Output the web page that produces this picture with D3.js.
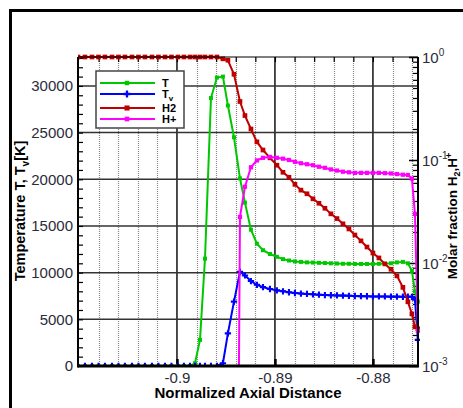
<!DOCTYPE html>
<html>
<head>
<meta charset="utf-8">
<script src="https://cdn.jsdelivr.net/npm/d3@7"></script>
<style>
  body { margin: 0; background: #fff; }
  svg { display: block; font-family: Arial, "Liberation Sans", sans-serif; }
  .tick text { font-size: 15px; fill: #2b2b3a; }
</style>
</head>
<body>
<div class="wrapper"></div>
<script>
width = 463;
height = 408;

/* Data: mesh points along the axis and the four series */
axial = [-0.91010, -0.90939, -0.90867, -0.90801, -0.90735, -0.90663, -0.90597, -0.90531,
  -0.90459, -0.90393, -0.90327, -0.90255, -0.90189, -0.90122, -0.90056, -0.89990,
  -0.89929, -0.89867, -0.89816, -0.89765, -0.89714, -0.89653, -0.89592, -0.89531,
  -0.89480, -0.89418, -0.89357, -0.89306, -0.89245, -0.89184, -0.89122, -0.89051,
  -0.88980, -0.88918, -0.88857, -0.88796, -0.88735, -0.88673, -0.88612, -0.88551,
  -0.88490, -0.88429, -0.88367, -0.88306, -0.88245, -0.88184, -0.88122, -0.88061,
  -0.88000, -0.87939, -0.87878, -0.87816, -0.87755, -0.87694, -0.87643, -0.87602,
  -0.87571, -0.87541];

tempT = [0, 0, 0, 0, 0, 0, 0, 0, 0, 0, 0, 0, 0, 0, 0, 0, 0, 0,
  300, 2800, 11500, 28700, 30900, 31000, 27900, 24500, 20100, 17500, 14600, 13100,
  12400, 12000, 11700, 11450, 11300, 11200, 11150, 11100, 11080, 11050, 11030, 11000,
  10980, 10950, 10950, 10930, 10930, 10930, 10930, 10950, 10950, 11000, 11100, 11150,
  11000, 10200, 8000, 6900];

tempTv = [0, 0, 0, 0, 0, 0, 0, 0, 0, 0, 0, 0, 0, 0, 0, 0, 0, 0, 0, 0, 0, 0, 0,
  300, 3500, 6900, 10100, 9700, 9100, 8700, 8450, 8250, 8100, 8000, 7900, 7820,
  7760, 7720, 7680, 7640, 7600, 7580, 7560, 7540, 7520, 7500, 7480, 7470, 7450,
  7450, 7450, 7430, 7430, 7420, 7420, 7400, 7100, 2800];

fracH2 = [1, 1, 1, 1, 1, 1, 1, 1, 1, 1, 1, 1, 1, 1, 1, 1, 1, 1, 1, 1, 1, 1, 1,
  0.96, 0.93, 0.68, 0.37, 0.27, 0.2, 0.15, 0.125, 0.105, 0.089, 0.076, 0.068, 0.058,
  0.051, 0.047, 0.042, 0.038, 0.034, 0.030, 0.027, 0.024, 0.0214, 0.0187, 0.0164,
  0.0143, 0.0125, 0.0112, 0.0098, 0.0087, 0.0075, 0.0058, 0.0042, 0.0032, 0.0024, 0.0023];

fracHp = [1e-10, 1e-10, 1e-10, 1e-10, 1e-10, 1e-10, 1e-10, 1e-10, 1e-10, 1e-10,
  1e-10, 1e-10, 1e-10, 1e-10, 1e-10, 1e-10, 1e-10, 1e-10, 1e-10, 1e-10, 1e-10,
  1e-10, 1e-10, 1e-10, 1e-10, 1e-10,
  0.028, 0.055, 0.085, 0.099, 0.105, 0.107, 0.105, 0.103, 0.1, 0.096, 0.093, 0.091,
  0.089, 0.086, 0.084, 0.081, 0.079, 0.077, 0.076, 0.075, 0.075, 0.075, 0.075, 0.075,
  0.0745, 0.074, 0.073, 0.072, 0.0715, 0.066, 0.03, 0.0022];

xLabels = [-0.9, -0.89, -0.88];
tempTicks = [0, 5000, 10000, 15000, 20000, 25000, 30000];
fracExps = [0, -1, -2, -3];

seriesNames = ["T", "Tv", "H2", "H+"];
seriesColors = ["#00c800", "#0000ff", "#c00000", "#ff00ff"];

/* Plot box ("top" is taken by window, so prefixed names) */
var pL = 78, pR = 418, pT = 57, pB = 366;

scaleX = d3.scaleLinear().domain([-0.9101, -0.8754]).range([pL, pR]);
scaleT = d3.scaleLinear().domain([0, 33100]).range([pB, pT]);
scaleF = d3.scaleLog().domain([1e-3, 1]).range([pB, pT]);

svg = d3.select(".wrapper")
  .append("svg")
  .attr("width", width)
  .attr("height", height)
  .attr("viewBox", "0 0 " + width + " " + height);

// figure frame (cut off at right and bottom)
svg.append("path")
  .attr("d", "M10.5," + height + "V10.5H" + width)
  .attr("fill", "none")
  .attr("stroke", "black")
  .attr("stroke-width", 3);

svg.append("clipPath").attr("id", "plotclip")
  .append("rect")
  .attr("x", pL).attr("y", pT - 3)
  .attr("width", pR - pL + 2).attr("height", pB - pT + 3);

/* Grid */
minorX = d3.range(-0.908, -0.8755, 0.002).filter(function (v) {
  return Math.abs(v * 100 - Math.round(v * 100)) > 1e-6;
});

svg.append("g")
  .selectAll("line")
  .data(minorX)
  .enter().append("line")
  .attr("x1", function (d) { return Math.round(scaleX(d)) + 0.5; })
  .attr("x2", function (d) { return Math.round(scaleX(d)) + 0.5; })
  .attr("y1", pT).attr("y2", pB)
  .attr("stroke", "#888")
  .attr("stroke-width", 1.2)
  .attr("stroke-dasharray", "1,1");

svg.append("g")
  .selectAll("line")
  .data(xLabels)
  .enter().append("line")
  .attr("x1", function (d) { return scaleX(d); })
  .attr("x2", function (d) { return scaleX(d); })
  .attr("y1", pT).attr("y2", pB)
  .attr("stroke", "#111")
  .attr("stroke-width", 1.5);

svg.append("g")
  .selectAll("line")
  .data(tempTicks.slice(1))
  .enter().append("line")
  .attr("x1", pL).attr("x2", pR)
  .attr("y1", function (d) { return scaleT(d); })
  .attr("y2", function (d) { return scaleT(d); })
  .attr("stroke", "#333")
  .attr("stroke-width", 1.5);

/* Axes */
// left: labels and inward minor ticks
svg.append("g")
  .attr("transform", "translate(" + pL + ",0)")
  .call(d3.axisLeft(scaleT).tickValues(tempTicks).tickSize(0).tickPadding(5)
    .tickFormat(d3.format("d")))
  .call(function (g) { g.select(".domain").remove(); });

svg.append("g")
  .attr("transform", "translate(" + pL + ",0)")
  .call(d3.axisRight(scaleT).tickValues(d3.range(0, 33001, 1000)).tickSize(5).tickFormat(""))
  .call(function (g) { g.select(".domain").remove(); })
  .selectAll("line").attr("stroke-width", 1.2);

// bottom: labels, inward major ticks
svg.append("g")
  .attr("transform", "translate(0," + pB + ")")
  .call(d3.axisBottom(scaleX).tickValues(xLabels).tickSize(0).tickPadding(6)
    .tickFormat(function (d) { return String(+d.toFixed(3)); }))
  .call(function (g) { g.select(".domain").remove(); });

svg.append("g")
  .attr("transform", "translate(0," + pB + ")")
  .call(d3.axisTop(scaleX).tickValues(xLabels).tickSize(7).tickFormat(""))
  .call(function (g) { g.select(".domain").remove(); })
  .selectAll("line").attr("stroke-width", 2.5);

// top: inward minor ticks
svg.append("g")
  .attr("transform", "translate(0," + pT + ")")
  .call(d3.axisBottom(scaleX).tickValues(minorX.concat(xLabels)).tickSize(5).tickFormat(""))
  .call(function (g) { g.select(".domain").remove(); })
  .selectAll("line").attr("stroke-width", 1.2);

// right: log ticks inward
logMinor = [];
[-3, -2, -1].forEach(function (e) {
  for (var k = 2; k <= 9; k++) logMinor.push(k * Math.pow(10, e));
});
svg.append("g")
  .attr("transform", "translate(" + pR + ",0)")
  .call(d3.axisLeft(scaleF).tickValues(logMinor).tickSize(5).tickFormat(""))
  .call(function (g) { g.select(".domain").remove(); })
  .selectAll("line").attr("stroke-width", 1.2);
svg.append("g")
  .attr("transform", "translate(" + pR + ",0)")
  .call(d3.axisLeft(scaleF).tickValues(fracExps.map(function (e) { return Math.pow(10, e); }))
    .tickSize(9).tickFormat(""))
  .call(function (g) { g.select(".domain").remove(); })
  .selectAll("line").attr("stroke-width", 1.5);

rlab = svg.append("g").selectAll("text")
  .data(fracExps)
  .enter().append("text")
  .attr("x", pR + 4)
  .attr("y", function (d) { return scaleF(Math.pow(10, d)) + 6; })
  .attr("font-size", 15)
  .attr("fill", "#2b2b3a");
rlab.append("tspan").text("10");
rlab.append("tspan")
  .attr("dy", -7)
  .attr("font-size", 10)
  .text(function (d) { return d === 0 ? "0" : "-" + (-d); });

/* Series */
plot = svg.append("g").attr("clip-path", "url(#plotclip)");

series = [
  { vals: tempT, y: scaleT, sym: d3.symbolSquare, size: 16 },
  { vals: tempTv, y: scaleT, sym: d3.symbolCross, size: 22 },
  { vals: fracH2, y: scaleF, sym: d3.symbolSquare, size: 22 },
  { vals: fracHp, y: scaleF, sym: d3.symbolSquare, size: 18 }
];

series.forEach(function (s, si) {
  var pts = axial.map(function (a, i) { return [scaleX(a), s.y(s.vals[i])]; });
  plot.append("path")
    .attr("d", d3.line()(pts))
    .attr("fill", "none")
    .attr("stroke", seriesColors[si])
    .attr("stroke-width", 2);
  plot.append("g")
    .selectAll("path")
    .data(pts)
    .enter().append("path")
    .attr("d", d3.symbol().type(s.sym).size(s.size))
    .attr("transform", function (d) { return "translate(" + d[0] + "," + d[1] + ")"; })
    .attr("fill", seriesColors[si]);
});

/* Plot border */
svg.append("line").attr("x1", pL).attr("x2", pR).attr("y1", pT).attr("y2", pT)
  .attr("stroke", "black").attr("stroke-width", 1.2);
svg.append("line").attr("x1", pR).attr("x2", pR).attr("y1", pT).attr("y2", pB)
  .attr("stroke", "black").attr("stroke-width", 2);
svg.append("line").attr("x1", pL).attr("x2", pL).attr("y1", pT).attr("y2", pB + 1.5)
  .attr("stroke", "black").attr("stroke-width", 2);
svg.append("line").attr("x1", pL).attr("x2", pR + 1).attr("y1", pB).attr("y2", pB)
  .attr("stroke", "black").attr("stroke-width", 3);

/* Legend */
legend = svg.append("g").attr("transform", "translate(96,71)");
legend.append("rect")
  .attr("width", 88).attr("height", 57)
  .attr("fill", "white")
  .attr("stroke", "#444")
  .attr("stroke-width", 1.5);

items = legend.selectAll(".item")
  .data(seriesNames)
  .enter().append("g")
  .attr("transform", function (d, i) { return "translate(0," + [12, 23, 37, 48][i] + ")"; });
items.append("line")
  .attr("x1", 4).attr("x2", 59)
  .attr("stroke", function (d, i) { return seriesColors[i]; })
  .attr("stroke-width", 2);
items.append("path")
  .attr("d", function (d, i) { return d3.symbol().type(series[i].sym).size(series[i].size + 4)(); })
  .attr("transform", "translate(31,0)")
  .attr("fill", function (d, i) { return seriesColors[i]; });
legText = items.append("text")
  .attr("x", 66)
  .attr("y", 4)
  .attr("font-size", 11)
  .attr("font-weight", "bold");
legText.append("tspan").text(function (d) { return d === "Tv" ? "T" : d; });
legText.filter(function (d) { return d === "Tv"; })
  .append("tspan").attr("dy", 3).attr("font-size", 8).text("v");

/* Axis titles */
svg.append("text")
  .attr("x", 248)
  .attr("y", 398)
  .attr("text-anchor", "middle")
  .attr("font-size", 15)
  .attr("font-weight", "bold")
  .text("Normalized Axial Distance");

lt = svg.append("text")
  .attr("transform", "translate(25,211) rotate(-90)")
  .attr("text-anchor", "middle")
  .attr("font-size", 14.5)
  .attr("font-weight", "bold");
lt.append("tspan").text("Temperature T, T");
lt.append("tspan").attr("dy", 4).attr("font-size", 10).text("v");
lt.append("tspan").attr("dy", -4).text("[K]");

rt = svg.append("text")
  .attr("transform", "translate(457,216) rotate(-90)")
  .attr("text-anchor", "middle")
  .attr("font-size", 13.5)
  .attr("font-weight", "bold");
rt.append("tspan").text("Molar fraction H");
rt.append("tspan").attr("dy", 3).attr("font-size", 9).text("2");
rt.append("tspan").attr("dy", -3).text(",H");
rt.append("tspan").attr("dy", -5).attr("font-size", 9).text("+");
</script>
</body>
</html>
